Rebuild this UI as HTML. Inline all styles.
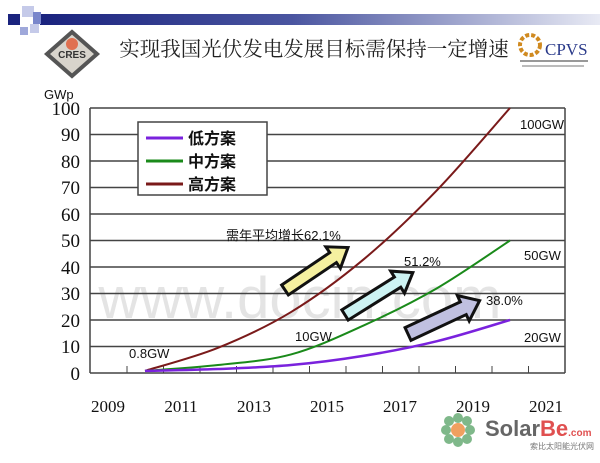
<!DOCTYPE html>
<html><head><meta charset="utf-8"><style>
body{margin:0;background:#fff;}
svg{display:block;}
</style></head><body>
<svg id="s" width="600" height="463" viewBox="0 0 600 463" xmlns="http://www.w3.org/2000/svg" font-family="Liberation Sans, sans-serif">
<defs>
<linearGradient id="hb" x1="0" x2="1" y1="0" y2="0">
<stop offset="0" stop-color="#1a237e"/><stop offset="0.45" stop-color="#4a55a0"/><stop offset="1" stop-color="#e8eaf4"/>
</linearGradient>
</defs>
<rect width="600" height="463" fill="#fff"/>
<rect x="40" y="14" width="560" height="11" fill="url(#hb)"/>
<rect x="8" y="14" width="12" height="11" fill="#1a237e"/>
<rect x="22" y="6" width="12" height="11" fill="#c5cae9"/>
<rect x="33" y="12" width="8" height="12" fill="#7986cb"/>
<rect x="20" y="27" width="8" height="8" fill="#9fa8da"/>
<rect x="30" y="24" width="9" height="9" fill="#c5cae9"/>
<polygon points="72,32 97,54 72,76 47,54" fill="#d8d4cc" stroke="#555" stroke-width="4"/>
<circle cx="72" cy="44" r="6" fill="#e07050"/>
<text x="72" y="58" font-size="10" font-weight="bold" text-anchor="middle" fill="#333">CRES</text>
<text x="314" y="56" font-size="20.5" text-anchor="middle" fill="#222" font-family="Liberation Serif, Noto Serif CJK SC, serif">实现我国光伏发电发展目标需保持一定增速</text>
<circle cx="530" cy="45" r="10" fill="none" stroke="#d08a20" stroke-width="4" stroke-dasharray="4 2"/>
<text x="545" y="55" font-size="17" fill="#2a3a8a" font-family="Liberation Serif, serif">CPVS</text>
<rect x="520" y="60" width="68" height="2" fill="#999"/>
<rect x="522" y="65" width="62" height="2" fill="#bbb"/>
<text x="300" y="318" font-size="58" fill="#e4e4e4" text-anchor="middle">www.docin.com</text>
<text x="44" y="99" font-size="13" fill="#111">GWp</text>
<g stroke="#444" stroke-width="1.5">
<line x1="90" y1="108" x2="565" y2="108"/>
<line x1="90" y1="134.5" x2="565" y2="134.5"/>
<line x1="90" y1="161" x2="565" y2="161"/>
<line x1="90" y1="187.5" x2="565" y2="187.5"/>
<line x1="90" y1="214" x2="565" y2="214"/>
<line x1="90" y1="240.5" x2="565" y2="240.5"/>
<line x1="90" y1="267" x2="565" y2="267"/>
<line x1="90" y1="293.5" x2="565" y2="293.5"/>
<line x1="90" y1="320" x2="565" y2="320"/>
<line x1="90" y1="346.5" x2="565" y2="346.5"/>
<line x1="90" y1="373" x2="565" y2="373"/>
<line x1="90" y1="108" x2="90" y2="373"/>
<line x1="565" y1="108" x2="565" y2="373"/>
</g>
<g stroke="#444" stroke-width="1">
<line x1="127" y1="366" x2="127" y2="373"/><line x1="163.5" y1="366" x2="163.5" y2="373"/>
<line x1="200" y1="366" x2="200" y2="373"/><line x1="236.5" y1="366" x2="236.5" y2="373"/>
<line x1="273" y1="366" x2="273" y2="373"/><line x1="309.5" y1="366" x2="309.5" y2="373"/>
<line x1="346" y1="366" x2="346" y2="373"/><line x1="382.5" y1="366" x2="382.5" y2="373"/>
<line x1="419" y1="366" x2="419" y2="373"/><line x1="455.5" y1="366" x2="455.5" y2="373"/>
<line x1="492" y1="366" x2="492" y2="373"/><line x1="528.5" y1="366" x2="528.5" y2="373"/>
</g>
<g font-size="19" fill="#111" text-anchor="end" font-family="Liberation Serif, serif">
<text x="80" y="115">100</text><text x="80" y="141">90</text><text x="80" y="168">80</text>
<text x="80" y="194">70</text><text x="80" y="221">60</text><text x="80" y="247">50</text>
<text x="80" y="274">40</text><text x="80" y="300">30</text><text x="80" y="327">20</text>
<text x="80" y="353">10</text><text x="80" y="380">0</text>
</g>
<g font-size="17" fill="#111" text-anchor="middle" font-family="Liberation Serif, serif">
<text x="108" y="412">2009</text><text x="181" y="412">2011</text><text x="254" y="412">2013</text>
<text x="327" y="412">2015</text><text x="400" y="412">2017</text><text x="473" y="412">2019</text><text x="546" y="412">2021</text>
</g>
<path id="red" fill="none" stroke="#7a1a1a" stroke-width="2"/>
<path id="grn" fill="none" stroke="#1a8a1a" stroke-width="2"/>
<path id="pur" fill="none" stroke="#7a22dd" stroke-width="2.5"/>
<rect x="138" y="122" width="129" height="73" fill="#fff" stroke="#444" stroke-width="1.5"/>
<g font-size="16" font-weight="bold" fill="#111" font-family="Liberation Sans, Noto Sans CJK SC, sans-serif">
<line x1="146" y1="138" x2="183" y2="138" stroke="#7a22dd" stroke-width="3"/><text x="188" y="144">低方案</text>
<line x1="146" y1="161" x2="183" y2="161" stroke="#1a8a1a" stroke-width="3"/><text x="188" y="167">中方案</text>
<line x1="146" y1="184" x2="183" y2="184" stroke="#7a1a1a" stroke-width="3"/><text x="188" y="190">高方案</text>
</g>
<g font-size="13" fill="#111" font-family="Liberation Sans, Noto Sans CJK SC, sans-serif">
<text x="226" y="240">需年平均增长62.1%</text>
<text x="404" y="266">51.2%</text>
<text x="486" y="305">38.0%</text>
<text x="520" y="129">100GW</text>
<text x="524" y="260">50GW</text>
<text x="524" y="342">20GW</text>
<text x="295" y="341">10GW</text>
<text x="129" y="358">0.8GW</text>
</g>
<g stroke="#111" stroke-width="3" stroke-linejoin="miter">
<polygon transform="translate(285,290) rotate(-34)" points="0,-6 58,-6 58,-13 76,0 58,13 58,6 0,6" fill="#f5f0a0"/>
<polygon transform="translate(345,315) rotate(-32)" points="0,-6 62,-6 62,-13 80,0 62,13 62,6 0,6" fill="#cdf3f3"/>
<polygon transform="translate(408,334) rotate(-25)" points="0,-7 61,-7 61,-14 79,0 61,14 61,7 0,7" fill="#c0c0e0"/>
</g>
<g fill="#7fb88a">
<circle cx="446" cy="430" r="5"/><circle cx="470" cy="430" r="5"/><circle cx="458" cy="418" r="5"/><circle cx="458" cy="442" r="5"/>
<circle cx="449" cy="421" r="5"/><circle cx="467" cy="421" r="5"/><circle cx="449" cy="439" r="5"/><circle cx="467" cy="439" r="5"/>
</g>
<circle cx="458" cy="430" r="7" fill="#f0a060"/>
<text x="485" y="436" font-size="22" font-weight="bold" fill="#666">Solar<tspan fill="#e05050">Be</tspan><tspan font-size="10" fill="#e05050">.com</tspan></text>
<text x="530" y="449" font-size="8" fill="#777" font-family="Noto Sans CJK SC, sans-serif">索比太阳能光伏网</text>
</svg>
<script>
function cr(p){var d="M"+p[0][0]+","+p[0][1];for(var i=0;i<p.length-1;i++){var p0=p[Math.max(i-1,0)],p1=p[i],p2=p[i+1],p3=p[Math.min(i+2,p.length-1)];
d+=" C"+(p1[0]+(p2[0]-p0[0])/6)+","+(p1[1]+(p2[1]-p0[1])/6)+" "+(p2[0]-(p3[0]-p1[0])/6)+","+(p2[1]-(p3[1]-p1[1])/6)+" "+p2[0]+","+p2[1];}return d;}
function pts(v){return v.map(function(a){return [145+36.5*a[0],373-2.65*a[1]];});}
document.getElementById("red").setAttribute("d",cr(pts([[0,0.8],[2,9.5],[4,23],[6,43],[8,69],[10,100]])));
document.getElementById("grn").setAttribute("d",cr(pts([[0,0.8],[2,3],[4,7],[6,18],[8,32],[10,50]])));
document.getElementById("pur").setAttribute("d",cr(pts([[0,0.8],[2,1.5],[4,3],[6,6.5],[8,12],[10,20]])));
</script>
</body></html>
